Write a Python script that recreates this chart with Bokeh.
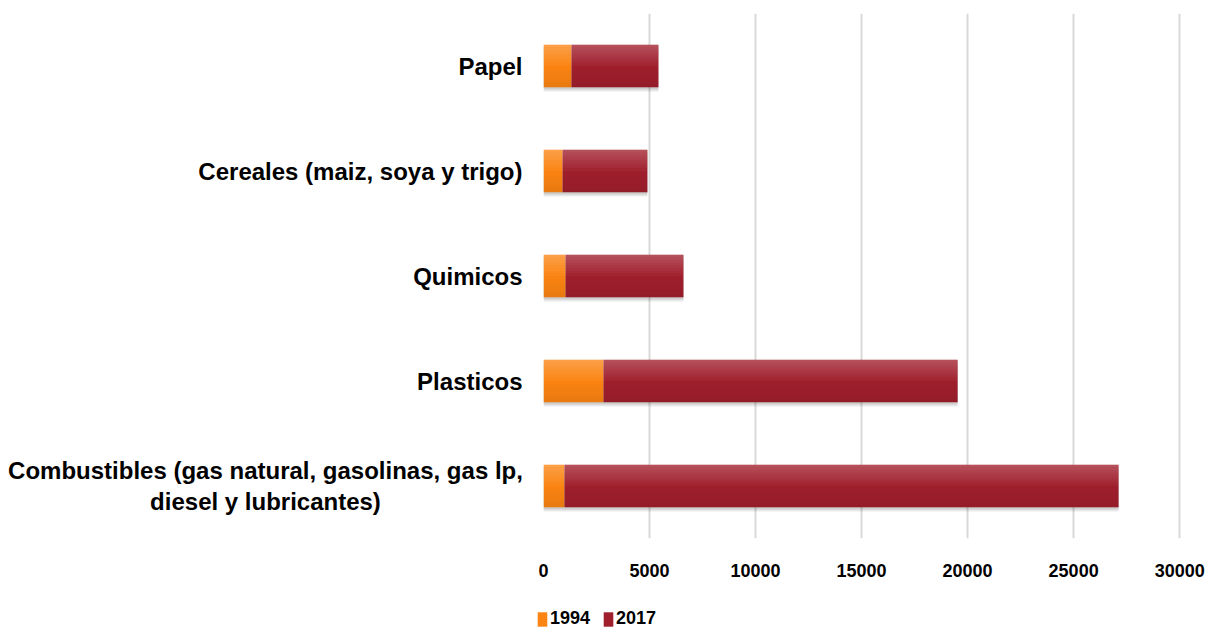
from bokeh.plotting import figure
from bokeh.layouts import row, column
from bokeh.models import ColumnDataSource, FactorRange, Range1d, Legend, LegendItem, SingleIntervalTicker
from bokeh.core.properties import value
from bokeh.transform import dodge
from bokeh.embed import file_html
from bokeh.resources import INLINE

categories = [
    "Combustibles (gas natural, gasolinas, gas lp,\ndiesel y lubricantes)",
    "Plasticos",
    "Quimicos",
    "Cereales (maiz, soya y trigo)",
    "Papel",
]
values_1994 = [990, 2830, 1040, 900, 1320]
values_2017 = [26130, 16700, 5560, 4000, 4100]
series = ["1994", "2017"]
colors = ["#FB8412", "#A01F2D"]

totals = [a + b for a, b in zip(values_1994, values_2017)]
src = ColumnDataSource(dict(cat=categories, y1994=values_1994, y2017=values_2017, total=totals))

FONT = "Liberation Sans"
BAR_H = 0.405
W_LAB, W_MAIN, H_TOP, H_LEG = 535, 674, 590, 39
TOP, BOTTOM = 13, 52
LABEL_RIGHT, LABEL_CENTER = 522, 265

# ---------------- main chart ----------------
p = figure(
    y_range=FactorRange(*categories, range_padding=0),
    x_range=Range1d(0, 30700),
    width=W_MAIN, height=H_TOP,
    output_backend="svg", toolbar_location=None,
    min_border_top=TOP, min_border_left=8, min_border_right=15, min_border_bottom=BOTTOM,
    background_fill_color="white", border_fill_color="white",
)
p.outline_line_color = None

# soft shadow
for off, a in [(0.045, 0.04), (0.035, 0.05), (0.025, 0.06), (0.015, 0.07)]:
    p.hbar(y=dodge("cat", -off, range=p.y_range), left=0, right="total", height=BAR_H,
           source=src, fill_color="#000000", fill_alpha=a, line_color=None)

r = p.hbar_stack(["y1994", "y2017"], y="cat", height=BAR_H, color=colors,
                 line_color=None, source=src)

# vertical gradient imitation: light top, slightly dark bottom
n = 8
band = BAR_H / 2 / n
for i in range(n):
    yc = BAR_H / 2 - band * (i + 0.5)
    p.hbar(y=dodge("cat", yc, range=p.y_range), left=0, right="total", height=band,
           source=src, fill_color="white", fill_alpha=0.22 * (1 - i / n), line_color=None)
for i in range(n):
    yc = -BAR_H / 2 + band * (i + 0.5)
    p.hbar(y=dodge("cat", yc, range=p.y_range), left=0, right="total", height=band,
           source=src, fill_color="black", fill_alpha=0.07 * (1 - i / n), line_color=None)

p.xaxis.ticker = SingleIntervalTicker(interval=5000)
p.xgrid.ticker = SingleIntervalTicker(interval=5000)
p.xgrid.grid_line_color = "#d9d9d9"
p.xgrid.grid_line_width = 2
p.ygrid.grid_line_color = None
p.yaxis.visible = False

xa = p.xaxis[0]
xa.axis_line_color = None
xa.major_tick_line_color = None
xa.minor_tick_line_color = None
xa.major_label_text_font = FONT
xa.major_label_text_font_style = "bold"
xa.major_label_text_color = "#000000"
xa.major_label_text_font_size = "18px"
xa.major_label_standoff = 19
xa.formatter.use_scientific = False

# ---------------- category labels (left strip) ----------------
lab = figure(
    y_range=p.y_range, x_range=Range1d(0, W_LAB),
    width=W_LAB, height=H_TOP,
    output_backend="svg", toolbar_location=None,
    min_border_top=TOP, min_border_left=0, min_border_right=0, min_border_bottom=BOTTOM,
    background_fill_color="white", border_fill_color="white",
)
lab.outline_line_color = None
lab.axis.visible = False
lab.grid.grid_line_color = None

single = categories[1:]
lab.text(x=LABEL_RIGHT, y=single, text=single,
         text_font=value(FONT), text_font_style="bold", text_font_size="24px",
         text_color="#000000", text_align="right", text_baseline="middle")
multi = categories[:1]
lab.text(x=LABEL_CENTER, y=multi, text=multi,
         text_font=value(FONT), text_font_style="bold", text_font_size="24px",
         text_color="#000000", text_align="center", text_baseline="middle",
         text_line_height=1.18)

# ---------------- legend strip ----------------
leg = figure(
    x_range=Range1d(0, W_LAB + W_MAIN), y_range=Range1d(0, H_LEG),
    width=W_LAB + W_MAIN, height=H_LEG,
    output_backend="svg", toolbar_location=None,
    min_border=0, background_fill_color="white", border_fill_color="white",
)
leg.outline_line_color = None
leg.axis.visible = False
leg.grid.grid_line_color = None
# invisible carriers for the legend swatches (zero-width bars below the strip)
dummy = [leg.hbar(y=[-100], left=[0], right=[0], height=1, fill_color=c, line_color=None)
         for c in colors]

legend = Legend(
    items=[LegendItem(label=s, renderers=[d]) for s, d in zip(series, dummy)],
    orientation="horizontal", location=(536, 0),
    label_text_font=FONT, label_text_font_style="bold", label_text_font_size="18px",
    label_text_color="#000000",
    glyph_width=12, glyph_height=18, label_standoff=2, spacing=12,
    border_line_color=None, background_fill_alpha=0, margin=0, padding=0,
)
leg.add_layout(legend, "center")

layout = column(row(lab, p, spacing=0), leg, spacing=0)
open("out.html", "w").write(file_html(layout, INLINE))
